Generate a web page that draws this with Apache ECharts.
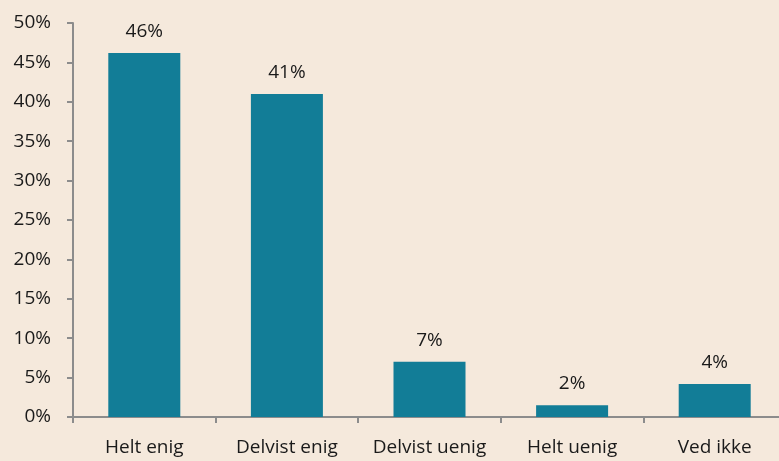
<!DOCTYPE html>
<html>
<head>
<meta charset="utf-8">
<script src="https://cdn.jsdelivr.net/npm/echarts@6/dist/echarts.min.js"></script>
<style>
  html, body { margin: 0; padding: 0; background: #F5E9DC; }
  #chart { width: 779px; height: 461px; }
</style>
</head>
<body>
<div id="chart"></div>
<script>
var categories = ['Helt enig', 'Delvist enig', 'Delvist uenig', 'Helt uenig', 'Ved ikke'];
var values = [46.2, 41.0, 7.0, 1.5, 4.2];
var yTicks = [0, 5, 10, 15, 20, 25, 30, 35, 40, 45, 50];

var myChart = echarts.init(document.getElementById('chart'));
var textStyle = { color: '#1a1a1a', fontSize: 19, fontFamily: 'Open Sans' };

myChart.setOption({
    backgroundColor: '#F5E9DC',
    animation: false,
    grid: {
        left: 73,
        top: 23,
        bottom: 44,
        width: 713,
        outerBoundsMode: 'none'
    },
    xAxis: {
        type: 'category',
        data: categories,
        axisLine: { lineStyle: { color: '#8c8c8c', width: 2 } },
        axisTick: { show: true, interval: 0, length: 6, lineStyle: { color: '#8c8c8c', width: 2 } },
        axisLabel: Object.assign({ margin: 21, interval: 0, hideOverlap: false }, textStyle)
    },
    yAxis: {
        type: 'value',
        min: yTicks[0],
        max: yTicks[yTicks.length - 1],
        interval: 5,
        axisLine: { show: true, lineStyle: { color: '#8c8c8c', width: 2 } },
        axisTick: { show: true, length: 6, lineStyle: { color: '#8c8c8c', width: 2 } },
        splitLine: { show: false },
        axisLabel: Object.assign({
            margin: 22,
            formatter: function (val) { return val + '%'; }
        }, textStyle)
    },
    series: [{
        type: 'bar',
        data: values,
        barWidth: 72,
        itemStyle: { color: '#127D97' },
        label: Object.assign({
            show: true,
            position: 'top',
            distance: 12,
            formatter: function (p) { return Math.round(p.value) + '%'; }
        }, textStyle)
    }]
});
</script>
</body>
</html>
